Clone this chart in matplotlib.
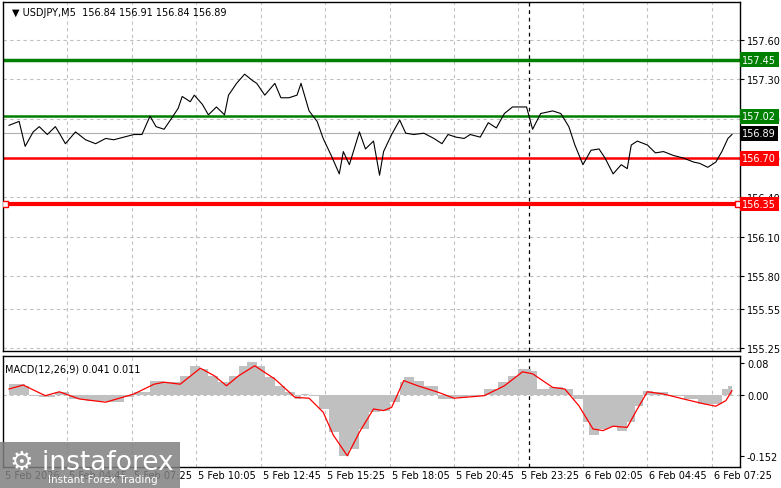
import matplotlib
matplotlib.use("Agg")
import matplotlib.pyplot as plt
from matplotlib.patches import Rectangle

# price path (bar index, close)
price_bars = [2, 7, 10, 14, 17, 21, 25, 27, 30, 35, 40, 45, 50, 54, 59, 64, 68, 72, 75, 79,
              83, 86, 88, 92, 94, 98, 101, 105, 109, 111, 115, 119, 123, 125, 129, 134, 137, 141, 145, 147,
              151, 155, 158, 162, 166, 168, 171, 176, 179, 183, 186, 188, 192, 196, 199, 203, 208, 213, 217, 220,
              224, 228, 231, 236, 240, 244, 248, 252, 259, 262, 266, 272, 276, 280, 283, 287, 291, 295, 298, 302,
              306, 309, 311, 314, 319, 323, 327, 332, 337, 342, 345, 349, 353, 356, 359, 361]
prices = [156.95, 156.98, 156.79, 156.90, 156.94, 156.88, 156.94, 156.89, 156.81, 156.90,
          156.84, 156.81, 156.85, 156.84, 156.86, 156.88, 156.88, 157.02, 156.94, 156.92,
          157.01, 157.08, 157.17, 157.13, 157.18, 157.11, 157.03, 157.09, 157.03, 157.18,
          157.27, 157.34, 157.29, 157.27, 157.18, 157.27, 157.16, 157.16, 157.18, 157.27,
          157.06, 156.98, 156.85, 156.72, 156.58, 156.75, 156.65, 156.90, 156.77, 156.83,
          156.57, 156.75, 156.88, 156.99, 156.89, 156.88, 156.89, 156.85, 156.81, 156.88,
          156.86, 156.85, 156.88, 156.86, 156.97, 156.93, 157.04, 157.09, 157.09, 156.92,
          157.04, 157.06, 157.04, 156.94, 156.80, 156.65, 156.76, 156.77, 156.70, 156.58,
          156.65, 156.62, 156.80, 156.83, 156.80, 156.74, 156.75, 156.72, 156.70, 156.67,
          156.66, 156.63, 156.67, 156.75, 156.85, 156.88]
last_price = 156.89
green_levels = [157.45, 157.02]
red_levels = [156.70, 156.35]
price_ticks = [157.60, 157.30, 157.00, 156.70, 156.40, 156.10, 155.80, 155.55, 155.25]

hist_bars = [2, 10, 12, 17, 25, 32, 40, 50, 59, 64, 72, 79, 87, 92, 97, 101, 106, 111, 116, 120,
             125, 129, 134, 139, 144, 147, 151, 156, 161, 166, 171, 176, 181, 186, 191, 196, 198, 203, 208, 215,
             223, 230, 238, 245, 250, 255, 261, 264, 270, 277, 282, 287, 290, 295, 300, 304, 309, 313, 317, 322,
             329, 337, 344, 351, 356, 359, 361]
hist_vals = [.0275, .023, -.0017, -.0058, .0067, -.01, -.014, -.018, -.0058, .0067,
             .036, .032, .048, .073, .065, .048, .032, .048, .073, .082,
             .073, .044, .023, .0067, -.01, .0025, -.0017, -.035, -.093, -.152,
             -.135, -.085, -.043, -.039, -.018, .032, .044, .036, .023, -.01,
             -.0058, -.0017, .015, .032, .048, .065, .061, .015, .019, .015,
             -.01, -.068, -.10, -.085, -.081, -.089, -.068, -.027, .011, .0067,
             -.0017, -.01, -.022, -.022, .015, .023, .048]
sig_bars = [2, 9, 20, 27, 37, 50, 64, 74, 79, 87, 97, 104, 110, 116, 124, 134, 144, 151, 158, 163,
            170, 176, 183, 188, 192, 198, 205, 215, 223, 238, 248, 257, 262, 272, 278, 285, 292, 297, 302, 309,
            314, 319, 327, 337, 347, 353, 358, 361]
sig_vals = [.015, .025, -.0017, .008, -.01, -.018, .0025, .027, .032, .027,
            .067, .048, .023, .048, .073, .04, -.006, -.008, -.043, -.1,
            -.152, -.093, -.035, -.039, -.031, .036, .023, .007, -.008, -.0017,
            .023, .058, .053, .019, .015, -.027, -.085, -.089, -.078, -.081,
            -.035, .008, .0025, -.01, -.022, -.028, -.014, .011]
macd_ticks = [0.08, 0.00, -0.152]
macd_labels = ["0.08", "0.00", "-0.152"]

time_ticks = [-1, 31, 63, 95, 127, 159, 191, 223, 255, 287, 319, 351]
time_labels = ["5 Feb 2026", "5 Feb 04:45", "5 Feb 07:25", "5 Feb 10:05", "5 Feb 12:45", "5 Feb 15:25",
               "5 Feb 18:05", "5 Feb 20:45", "5 Feb 23:25", "6 Feb 02:05", "6 Feb 04:45", "6 Feb 07:25"]
separator_bar = 260

W, H = 781, 489
fig = plt.figure(figsize=(W / 100, H / 100), dpi=100)
fig.patch.set_facecolor("white")
plt.rcParams["font.family"] = "DejaVu Sans"

def box(l, t, r, b):
    return [l / W, 1 - b / H, (r - l) / W, (b - t) / H]

ax = fig.add_axes(box(3, 3, 740, 352))
mx = fig.add_axes(box(3, 357, 740, 468))
XMAX = 365
for a in (ax, mx):
    a.set_xlim(-1, XMAX)
    for s in a.spines.values():
        s.set_color("black")
        s.set_linewidth(1)
    a.tick_params(left=False, labelleft=False, right=True, labelright=True,
                  bottom=False, labelbottom=False, labelsize=7, length=3, pad=2)
    for t in time_ticks[1:]:
        a.axvline(t, color="#c0c0c0", ls=(0, (3, 3)), lw=0.8, zorder=0)
    a.axvline(separator_bar, color="black", ls=(0, (3, 3)), lw=0.9, zorder=1)

ax.set_ylim(155.23, 157.89)
ax.set_yticks(price_ticks)
ax.set_yticklabels([f"{v:.2f}" for v in price_ticks])
for v in price_ticks:
    ax.axhline(v, color="#c0c0c0", ls=(0, (3, 3)), lw=0.8, zorder=0)
ax.axhline(last_price, color="#b0b0b0", lw=0.8, zorder=1)
ax.plot(price_bars, prices, color="black", lw=0.8, zorder=3)

def right_label(a, y, text, fc, tc="white"):
    a.text(1.003, y, text, transform=a.get_yaxis_transform(), ha="left", va="center",
           fontsize=7, color=tc, zorder=5, clip_on=False,
           bbox=dict(boxstyle="square,pad=0.25", fc=fc, ec="none"))

for lv in green_levels:
    ax.axhline(lv, color="#008000", lw=2.5 if lv == 157.45 else 1.8, zorder=2)
    right_label(ax, lv, f"{lv:.2f}", "#008000")
for lv in red_levels:
    ax.axhline(lv, color="#ff0000", lw=3 if lv == 156.35 else 1.8, zorder=2)
    right_label(ax, lv, f"{lv:.2f}", "#ff0000")
ax.plot([0, XMAX - 1], [156.35, 156.35], ls="none", marker="s", ms=4, mfc="white", mec="red", zorder=4)
right_label(ax, last_price, f"{last_price:.2f}", "black")
ax.text(0.012, 0.985, "▼ USDJPY,M5  156.84 156.91 156.84 156.89", transform=ax.transAxes,
        fontsize=7, va="top", ha="left")

mx.set_ylim(-0.18, 0.0975)
mx.set_yticks(macd_ticks)
mx.set_yticklabels(macd_labels)
mx.axhline(0, color="#c0c0c0", ls=(0, (3, 3)), lw=0.8, zorder=0)
mx.fill_between(hist_bars, hist_vals, 0, step="post", color="#c0c0c0", lw=0, zorder=2)
mx.plot(sig_bars, sig_vals, color="red", lw=0.9, zorder=3)
mx.text(0.003, 0.93, "MACD(12,26,9) 0.041 0.011", transform=mx.transAxes, fontsize=7, va="top")

for t, lab in zip(time_ticks, time_labels):
    x = mx.transData.transform((t, 0))[0] if False else None
    mx.text(t + 1, -0.03, lab, transform=mx.get_xaxis_transform(), fontsize=7, va="top", ha="left",
            clip_on=False)

# watermark
fig.patches.append(Rectangle((0, 0), 180 / W, 46 / H, transform=fig.transFigure,
                             fc="#808080", ec="none", alpha=0.85, zorder=10))
fig.text(10 / W, 1 - 463 / H, "⚙ instaforex", fontsize=19, color="white", va="center", zorder=11)
fig.text(48 / W, 1 - 480 / H, "Instant Forex Trading", fontsize=7.5, color="white", va="center", zorder=11)

fig.savefig("out.png", dpi=100)
